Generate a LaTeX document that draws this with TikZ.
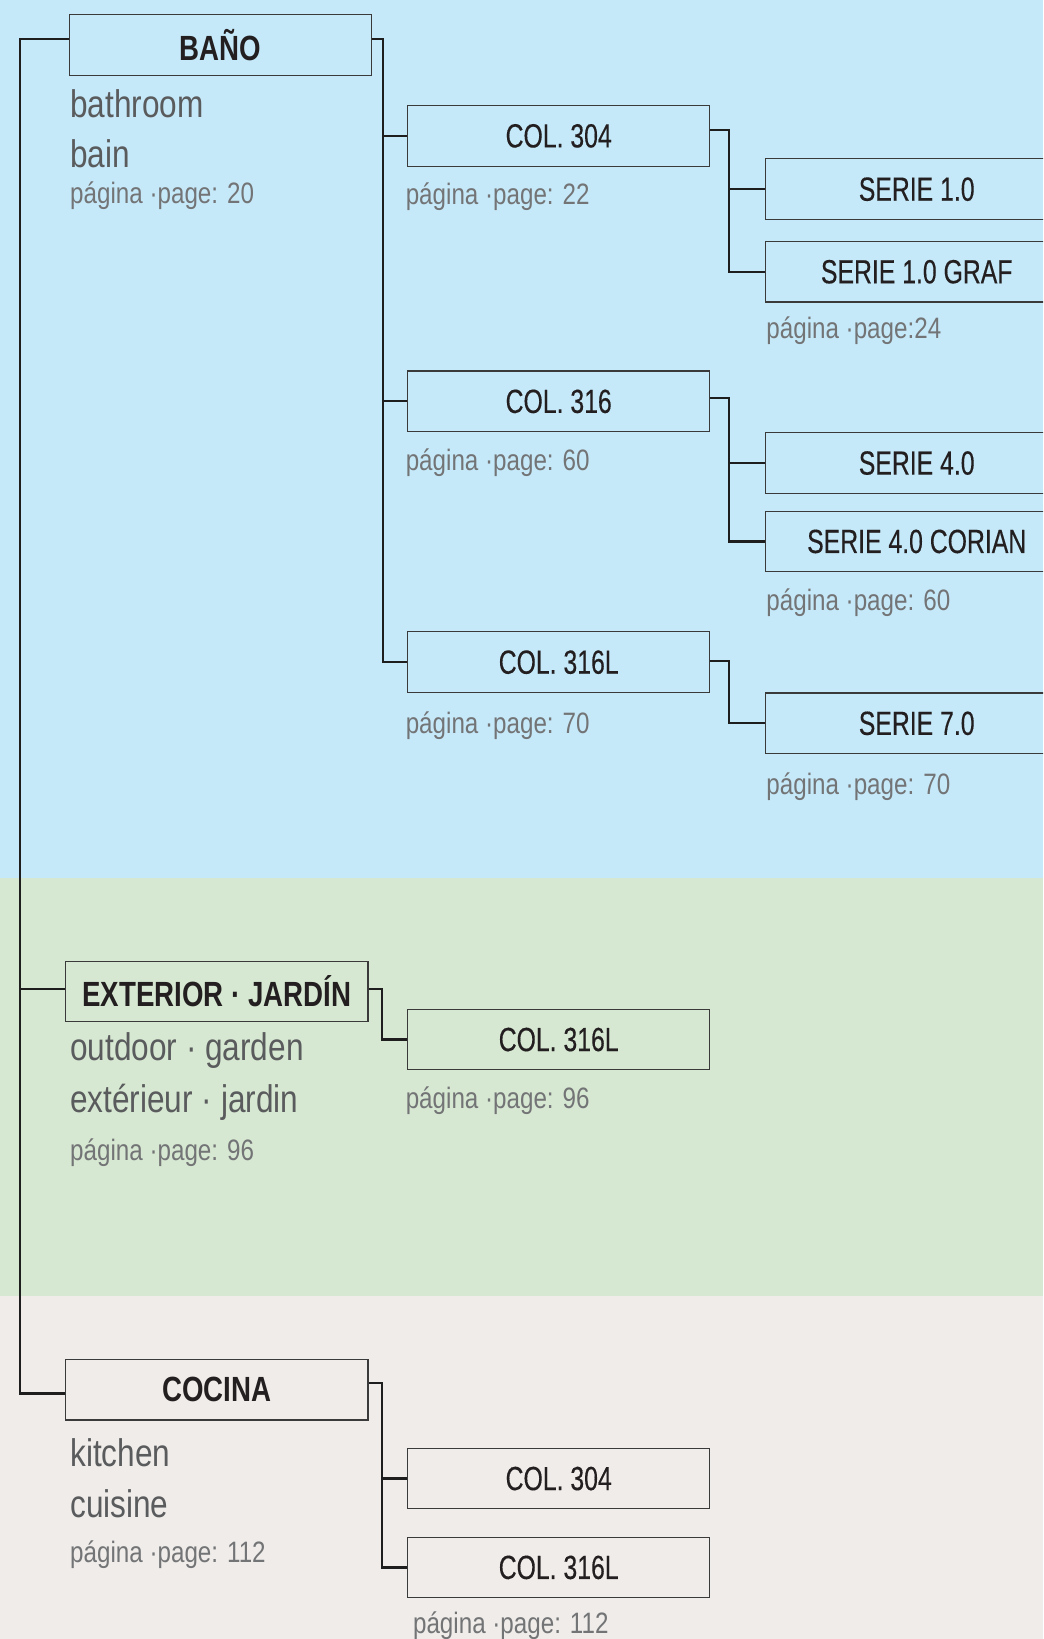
\documentclass[tikz,border=0pt]{standalone}
\usepackage{fontspec}
\setmainfont{Liberation Sans}[FakeStretch=0.82]
\newfontfamily\boxfont{Liberation Sans}[FakeStretch=0.74,FakeBold=0.3]
\newfontfamily\headfont{Liberation Sans}[FakeStretch=0.79]
\usetikzlibrary{calc}
\definecolor{bgblue}{HTML}{C6E9F9}
\definecolor{bggreen}{HTML}{D6E8D2}
\definecolor{bggray}{HTML}{EFECE9}
\definecolor{txtdark}{HTML}{231F20}
\definecolor{txtmid}{HTML}{5A5B5D}
\definecolor{txtlight}{HTML}{737476}
\definecolor{boxline}{HTML}{3A3A3A}
\definecolor{linecol}{HTML}{1E1E1E}
\tikzset{
  box/.style={draw=boxline, line width=1.2pt, minimum width=302pt, minimum height=60.6pt, inner sep=0pt, text=txtdark, font=\boxfont\fontsize{33.5}{33.5}\selectfont},
  headbox/.style={box, font=\headfont\bfseries\fontsize{35}{35}\selectfont},
  conn/.style={draw=linecol, line width=2.2pt},
  big/.style={anchor=base west, inner sep=0pt, text=txtmid, font=\fontsize{38.5}{38.5}\selectfont},
  pg/.style={anchor=base west, inner sep=0pt, text=txtlight, font=\fontsize{29.5}{29.5}\selectfont},
}
\begin{document}
\begin{tikzpicture}[x=1.0451pt,y=-1.0451pt]
\useasboundingbox (0,0) rectangle (998,1568);
\clip (0,0) rectangle (998,1568);
\fill[bgblue] (0,0) rectangle (998,840);
\fill[bggreen] (0,840) rectangle (998,1240);
\fill[bggray] (0,1240) rectangle (998,1568);

% boxes
\node[headbox] (bano) at (211,43) {BAÑO};
\node[box] (c304) at (534.5,130) {COL. 304};
\node[box] (s10) at (877,181) {SERIE 1.0};
\node[box] (s10g) at (877,260) {SERIE 1.0 GRAF};
\node[box] (c316) at (534.5,384) {COL. 316};
\node[box] (s40) at (877,443) {SERIE 4.0};
\node[box] (s40c) at (877,518) {SERIE 4.0 CORIAN};
\node[box] (c316l) at (534.5,633.5) {COL. 316L};
\node[box] (s70) at (877,692) {SERIE 7.0};
\node[headbox] (ext) at (207.5,948.5) {EXTERIOR · JARDÍN};
\node[box] (ec316l) at (534.5,994.5) {COL. 316L};
\node[headbox] (coc) at (207.5,1329.5) {COCINA};
\node[box] (kc304) at (534.5,1414.5) {COL. 304};
\node[box] (kc316l) at (534.5,1499.5) {COL. 316L};

% texts
\node[big] (t1) at (67,112) {bathroom};
\node[big] (t2) at (67,160) {bain};
\node[pg] (t3) at (67,195) {página ·page: 20};
\node[pg] (t4) at (388,196) {página ·page: 22};
\node[pg] (t5) at (733,324) {página ·page:24};
\node[pg] (t6) at (388,450) {página ·page: 60};
\node[pg] (t7) at (733,584) {página ·page: 60};
\node[pg] (t8) at (388,702) {página ·page: 70};
\node[pg] (t9) at (733,760) {página ·page: 70};
\node[big] (t10) at (67,1015) {outdoor · garden};
\node[big] (t11) at (67,1064) {extérieur · jardin};
\node[pg] (t12) at (67,1110) {página ·page: 96};
\node[pg] (t13) at (388,1060) {página ·page: 96};
\node[big] (t14) at (67,1403) {kitchen};
\node[big] (t15) at (67,1452) {cuisine};
\node[pg] (t16) at (67,1495) {página ·page: 112};
\node[pg] (t17) at (395,1563) {página ·page: 112};

% exit / entry points
\coordinate (baR) at ($(bano.north east)!0.4!(bano.south east)$);
\coordinate (baL) at ($(bano.north west)!0.4!(bano.south west)$);
\coordinate (exR) at ($(ext.north east)!0.46!(ext.south east)$);
\coordinate (exL) at ($(ext.north west)!0.46!(ext.south west)$);
\coordinate (coR) at ($(coc.north east)!0.39!(coc.south east)$);
\coordinate (coL) at ($(coc.north west)!0.56!(coc.south west)$);
\coordinate (c304R) at ($(c304.north east)!0.41!(c304.south east)$);
\coordinate (c316R) at ($(c316.north east)!0.45!(c316.south east)$);
\coordinate (c316lR) at ($(c316l.north east)!0.48!(c316l.south east)$);

% trunk
\draw[conn] (baL) -- ++(-47,0) coordinate (trunkTop) |- (coL);
\draw[conn] (trunkTop) |- (exL);

% BAÑO branch
\draw[conn] (baR) -- ++(10,0) coordinate (bj) |- (c316l.west);
\draw[conn] (bj) |- (c304.west);
\draw[conn] (bj) |- (c316.west);

% COL 304 branch
\draw[conn] (c304R) -- ++(18,0) coordinate (j1) |- (s10g.west);
\draw[conn] (j1) |- (s10.west);
% COL 316 branch
\draw[conn] (c316R) -- ++(18,0) coordinate (j2) |- (s40c.west);
\draw[conn] (j2) |- (s40.west);
% COL 316L branch
\draw[conn] (c316lR) -- ++(18,0) |- (s70.west);

% EXTERIOR branch
\draw[conn] (exR) -- ++(13,0) |- (ec316l.west);

% COCINA branch
\draw[conn] (coR) -- ++(13,0) coordinate (j3) |- (kc316l.west);
\draw[conn] (j3) |- (kc304.west);
\end{tikzpicture}
\end{document}
